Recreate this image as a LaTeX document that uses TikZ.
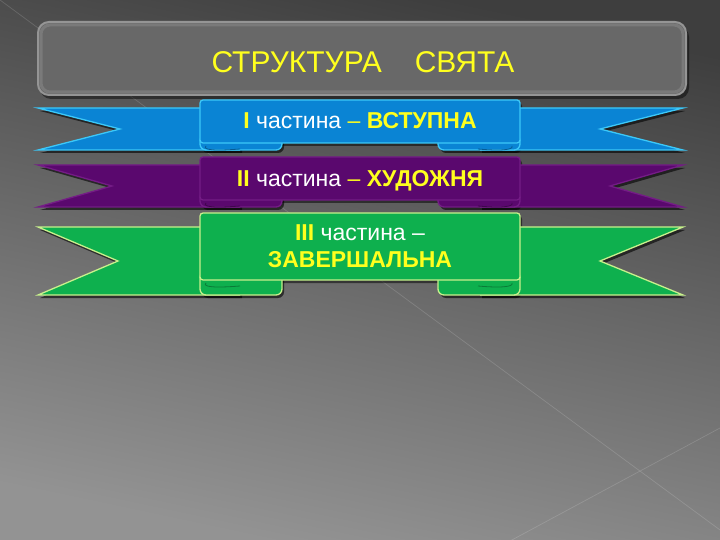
\documentclass[tikz,border=0pt]{standalone}
\usepackage{fontspec}
\setmainfont{Liberation Sans}
\definecolor{bgtop}{HTML}{3E3E3E}
\definecolor{bgbot}{HTML}{939393}
\definecolor{titlefill}{HTML}{686868}
\definecolor{titleedge}{HTML}{959595}
\definecolor{yel}{HTML}{FFFF1E}
\definecolor{bluefill}{HTML}{0A84D4}
\definecolor{blueedge}{HTML}{3CC8F8}
\definecolor{purpfill}{HTML}{5A086E}
\definecolor{purpedge}{HTML}{741C86}
\definecolor{greenfill}{HTML}{0EB04E}
\definecolor{greenedge}{HTML}{C8F08C}
\tikzset{
  ribtext/.style={font=\fontsize{23}{27}\selectfont, text=white, align=center},
  titletext/.style={font=\fontsize{30}{33}\selectfont, text=yel},
  bgline/.style={white, opacity=0.15, line width=0.7pt}
}
% #1 yt, #2 yb, #3 pt, #4 pb, #5 fill, #6 edge, #7 left notch x, #8 right notch x
\newcommand\myribbon[8]{%
  \begin{scope}[xshift=2pt, yshift=-3pt]
    \fill[black, opacity=0.6] (240,#1) -- (38,#1) -- (#7,{(#1+#2)/2}) -- (38,#2) -- (240,#2) -- cycle;
    \fill[black, opacity=0.6] (480,#1) -- (683,#1) -- (#8,{(#1+#2)/2}) -- (683,#2) -- (480,#2) -- cycle;
    \fill[black, opacity=0.6, rounded corners=6] (200,{#4-8}) rectangle (282,#2);
    \fill[black, opacity=0.6, rounded corners=6] (438,{#4-8}) rectangle (520,#2);
    \fill[black, opacity=0.5, rounded corners=3] (200,#3) rectangle (520,#4);
  \end{scope}
  \fill[#5] (240,#1) -- (38,#1) -- (#7,{(#1+#2)/2}) -- (38,#2) -- (240,#2) -- cycle;
  \draw[#6, line width=1.3pt, line join=miter] (240,#1) -- (38,#1) -- (#7,{(#1+#2)/2}) -- (38,#2) -- (240,#2);
  \fill[#5] (480,#1) -- (683,#1) -- (#8,{(#1+#2)/2}) -- (683,#2) -- (480,#2) -- cycle;
  \draw[#6, line width=1.3pt, line join=miter] (480,#1) -- (683,#1) -- (#8,{(#1+#2)/2}) -- (683,#2) -- (480,#2);
  \filldraw[fill=#5, draw=#6, line width=1.3pt, rounded corners=6] (200,{#4-8}) rectangle (282,#2);
  \filldraw[fill=#5, draw=#6, line width=1.3pt, rounded corners=6] (438,{#4-8}) rectangle (520,#2);
  \draw[#5!70!black, line width=0.8pt] (206,{#4+3}) .. controls (202,{#4+7}) and (215,{#4+8}) .. (240,{#4+6});
  \draw[#5!70!black, line width=0.8pt] (478,{#4+6}) .. controls (500,{#4+8}) and (514,{#4+7}) .. (512,{#4+3});
  \filldraw[fill=#5, draw=#6, line width=1.3pt, rounded corners=3] (200,#3) rectangle (520,#4);
}
\begin{document}
\begin{tikzpicture}[x=1pt, y=-1pt]
  \useasboundingbox (0,0) rectangle (720,540);
  \shade[top color=bgtop, bottom color=bgbot, shading angle=-12] (0,0) rectangle (720,540);
  \draw[bgline] (0,0) -- (735,541);
  \draw[bgline] (510,541) -- (720,428);
  % title box
  \fill[black, opacity=0.45, rounded corners=11] (40,26) rectangle (689,99);
  \filldraw[fill=titlefill, draw=titleedge, line width=2pt, rounded corners=11] (38,22) rectangle (686,95);
  \draw[white, opacity=0.12, line width=3pt, rounded corners=9] (41,25) rectangle (683,92);
  \node[titletext] (title) at (363,62) {СТРУКТУРА\hspace{1.1em}СВЯТА};
  % ribbons
  \myribbon{108}{150}{100}{143}{bluefill}{blueedge}{120}{600}
  \myribbon{165}{207}{157}{200}{purpfill}{purpedge}{112}{610}
  \myribbon{227}{295}{213}{280}{greenfill}{greenedge}{118}{600}
  \node[ribtext] (r1) at (360,121) {\textcolor{yel}{\textbf{I}} частина \textcolor{yel}{– \textbf{ВСТУПНА}}};
  \node[ribtext] (r2) at (360,181) {\textcolor{yel}{\textbf{II}} частина \textcolor{yel}{– \textbf{ХУДОЖНЯ}}};
  \node[ribtext] (r3a) at (360,233) {\textcolor{yel}{\textbf{III}} частина –};
  \node[ribtext] (r3b) at (360,260) {\textcolor{yel}{\textbf{ЗАВЕРШАЛЬНА}}};
\end{tikzpicture}
\end{document}
